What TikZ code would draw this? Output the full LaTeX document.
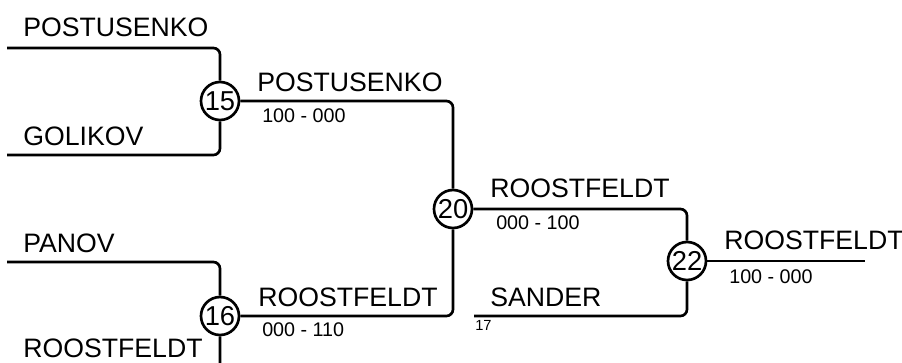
\documentclass[tikz,border=0pt]{standalone}
\usepackage{fontspec}
\setmainfont{Liberation Sans}
\tikzset{
    link/.style={line width=2pt, rounded corners=5pt},
    match/.style={circle, draw, line width=2pt, inner sep=0pt, minimum size=28.5pt,
        font=\fontsize{20.5}{21}\selectfont},
    player/.style={anchor=base west, inner sep=0pt, font=\fontsize{20}{21}\selectfont},
    score/.style={anchor=base west, inner sep=0pt, font=\fontsize{14.8}{15}\selectfont},
    seed/.style={anchor=base west, inner sep=0pt, font=\fontsize{11}{12}\selectfont}
}
\begin{document}
\begin{tikzpicture}[x=0.75pt, y=-0.75pt]
    \useasboundingbox (0,0) rectangle (902,362);

    % matches
    \node[match] (m15) at (220,101) {15};
    \node[match] (m16) at (220,316) {16};
    \node[match] (m20) at (453,209) {20};
    \node[match] (m22) at (687,261) {22};

    % free ends
    \coordinate (postusenko) at (7,48);
    \coordinate (golikov) at (7,155);
    \coordinate (panov) at (7,262);
    \coordinate (roostfeldt) at (7,372);
    \coordinate (sander) at (474,316);
    \coordinate (winner) at (865,261);

    % brackets
    \draw[link] (postusenko) -| (m15);
    \draw[link] (golikov) -| (m15);
    \draw[link] (panov) -| (m16);
    \draw[link] (roostfeldt) -| (m16);
    \draw[link] (m15) -| (m20);
    \draw[link] (m16) -| (m20);
    \draw[link] (m20) -| (m22);
    \draw[link] (sander) -| (m22);
    \draw[link] (m22) -- (winner);

    % names
    \node[player] (n1) at (23,36) {POSTUSENKO};
    \node[player] (n2) at (23,145) {GOLIKOV};
    \node[player] (n3) at (23,252) {PANOV};
    \node[player] (n4) at (23,357) {ROOSTFELDT};
    \node[player] (n5) at (257,91) {POSTUSENKO};
    \node[player] (n6) at (258,306) {ROOSTFELDT};
    \node[player] (n7) at (490,197) {ROOSTFELDT};
    \node[player] (n8) at (490,306) {SANDER};
    \node[player] (n9) at (724,249) {ROOSTFELDT};

    % scores
    \node[score] (s1) at (262,122) {100 - 000};
    \node[score] (s2) at (262,336) {000 - 110};
    \node[score] (s3) at (496,229) {000 - 100};
    \node[score] (s4) at (729,283) {100 - 000};
    \node[seed] (s5) at (475,330) {17};
\end{tikzpicture}
\end{document}
